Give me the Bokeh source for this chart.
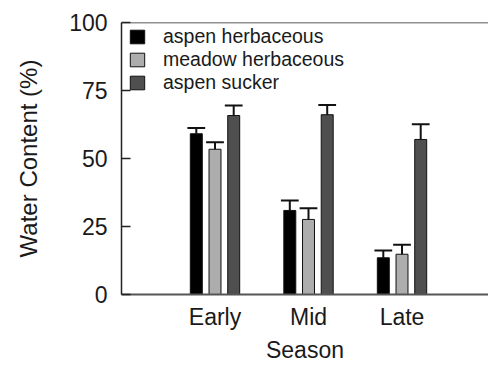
from bokeh.plotting import figure
from bokeh.models import Range1d, FixedTicker, Span, Legend, LegendItem, ColumnDataSource
from bokeh.embed import file_html
from bokeh.resources import INLINE

seasons = ["Early", "Mid", "Late"]
series_names = ["aspen herbaceous", "meadow herbaceous", "aspen sucker"]
aspen_herb = [59.1, 30.9, 13.5]
aspen_herb_err = [2.1, 3.7, 2.7]
meadow_herb = [53.4, 27.6, 14.8]
meadow_herb_err = [2.6, 4.1, 3.5]
aspen_sucker = [65.8, 66.1, 57.0]
aspen_sucker_err = [3.7, 3.6, 5.6]
y_ticks = [0, 25, 50, 75, 100]

values = [aspen_herb, meadow_herb, aspen_sucker]
errors = [aspen_herb_err, meadow_herb_err, aspen_sucker_err]
colors = ["#000000", "#adadad", "#4f4f4f"]
offsets = [-0.2, 0.0, 0.2]
FONT = "Liberation Sans"

p = figure(width=488, height=365, output_backend="svg", toolbar_location=None,
           x_range=Range1d(0, 3.925), y_range=Range1d(0, 100))
p.min_border_left = 121
p.min_border_top = 22
p.min_border_bottom = 71
p.min_border_right = 0
p.outline_line_color = None
p.grid.visible = False
p.background_fill_color = "white"
p.border_fill_color = "white"

items = []
for vals, errs, col, off, name in zip(values, errors, colors, offsets, series_names):
    xs = [i + 1 + off for i in range(len(seasons))]
    tops = [v + e for v, e in zip(vals, errs)]
    src = ColumnDataSource(dict(x=xs, top=vals, etop=tops))
    r = p.vbar(x="x", top="top", width=0.128, source=src, fill_color=col,
               line_color="#111111", line_width=1)
    p.segment(x0="x", y0="top", x1="x", y1="etop", source=src, line_color="#111111", line_width=2)
    cap = ColumnDataSource(dict(x0=[x - 0.095 for x in xs], x1=[x + 0.095 for x in xs], y=tops))
    p.segment(x0="x0", y0="y", x1="x1", y1="y", source=cap, line_color="#111111", line_width=2)
    items.append(LegendItem(label=name, renderers=[r]))

legend = Legend(items=items, location=(7, 200), padding=0, margin=0, spacing=0,
                glyph_width=18, glyph_height=17, label_height=22, label_standoff=17,
                label_text_font=FONT, label_text_font_size="19.5px", label_text_color="#1a1a1a",
                border_line_alpha=0, background_fill_alpha=0)
p.add_layout(legend)

p.add_layout(Span(location=100, dimension="width", line_color="#222222", line_width=1.5))

# y axis
ya = p.yaxis[0]
ya.ticker = FixedTicker(ticks=y_ticks)
ya.minor_tick_line_color = None
ya.major_tick_in = 9
ya.major_tick_out = 0
ya.major_tick_line_width = 1.5
ya.major_tick_line_color = "#222222"
ya.axis_line_color = "#222222"
ya.axis_line_width = 1.5
ya.major_label_standoff = 14
ya.major_label_text_font = FONT
ya.major_label_text_font_size = "23px"
ya.major_label_text_color = "#1a1a1a"
ya.axis_label = "Water Content (%)"
ya.axis_label_text_font = FONT
ya.axis_label_text_font_size = "24px"
ya.axis_label_text_font_style = "normal"
ya.axis_label_text_color = "#1a1a1a"
ya.axis_label_standoff = 24

# x axis
xa = p.xaxis[0]
xa.ticker = FixedTicker(ticks=[i + 1 for i in range(len(seasons))])
xa.major_label_overrides = {i + 1: s for i, s in enumerate(seasons)}
xa.minor_tick_line_color = None
xa.major_tick_line_color = None
xa.major_tick_in = 0
xa.major_tick_out = 0
xa.axis_line_color = "#555555"
xa.axis_line_width = 2
xa.major_label_standoff = 9
xa.major_label_text_font = FONT
xa.major_label_text_font_size = "23px"
xa.major_label_text_color = "#1a1a1a"
xa.axis_label = "Season"
xa.axis_label_text_font = FONT
xa.axis_label_text_font_size = "23px"
xa.axis_label_text_font_style = "normal"
xa.axis_label_text_color = "#1a1a1a"
xa.axis_label_standoff = 4

open("out.html", "w").write(file_html(p, INLINE))
